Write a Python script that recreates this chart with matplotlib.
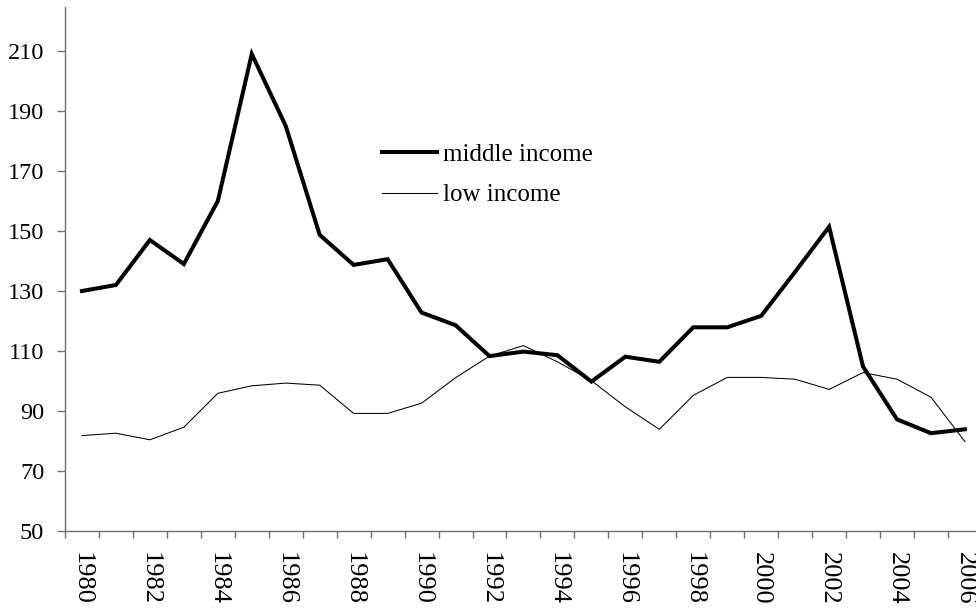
import matplotlib
matplotlib.use("Agg")
import matplotlib.pyplot as plt
import numpy as np

years = list(range(1980, 2007))
middle_income = [130, 132, 147, 139, 160, 209, 185, 148.7, 138.7, 140.6, 122.8, 118.6,
                 108.3, 109.8, 108.6, 99.8, 108.1, 106.4, 117.9, 117.9, 121.7, 136.4,
                 151.4, 104.8, 87.2, 82.6, 83.9]
low_income = [81.8, 82.6, 80.4, 84.6, 95.9, 98.4, 99.3, 98.6, 89.2, 89.2, 92.6, 101.1,
              108.3, 111.8, 106.4, 100.1, 91.4, 83.9, 95.2, 101.2, 101.2, 100.6, 97.2,
              102.8, 100.6, 94.6, 79.8]
yticks = list(range(50, 211, 20))

plt.rcParams['font.family'] = ['Liberation Serif', 'DejaVu Serif']
fig = plt.figure(figsize=(9.76, 6.12), dpi=100)
W, H = 976, 612
left, bottom, top = 65, 531, 7
right = 65 + 27 * 33.96
ax = fig.add_axes([left / W, (H - bottom) / H, (right - left) / W, (bottom - top) / H])

x = np.arange(len(years))
ax.plot(x, middle_income, color='black', lw=2.9, label='middle income', solid_joinstyle='miter')
ax.plot(x, low_income, color='black', lw=0.75, label='low income')

ax.set_xlim(-0.5, len(years) - 0.5)
ax.set_ylim(50, 50 + (bottom - top) / 3.0)

spine_col = '#6f6f6f'
for s in ['top', 'right']:
    ax.spines[s].set_visible(False)
for s in ['left', 'bottom']:
    ax.spines[s].set_color(spine_col)
    ax.spines[s].set_linewidth(1.0)

ax.set_yticks(yticks)
ax.set_yticklabels([str(v) for v in yticks], fontsize=17.5)
ax.tick_params(axis='y', direction='out', length=6, width=1, color=spine_col, pad=9)

ax.set_xticks(np.arange(-0.5, len(years), 1))
ax.set_xticklabels([])
ax.tick_params(axis='x', which='major', direction='out', length=5, width=1, color=spine_col)
lab_pos = x[::2]
ax.set_xticks(lab_pos, minor=True)
ax.set_xticklabels([str(years[i]) for i in lab_pos], minor=True, rotation=270, fontsize=19,
                   va='top', ha='center')
ax.tick_params(axis='x', which='minor', length=0, pad=15)

leg = ax.legend(loc='upper left', bbox_to_anchor=(382 / W, 1 - 143 / H),
                bbox_transform=fig.transFigure, frameon=False, fontsize=18,
                handlelength=2.2, handletextpad=0.24, labelspacing=0.73,
                borderpad=0, borderaxespad=0)

fig.savefig('out.png', dpi=100)
